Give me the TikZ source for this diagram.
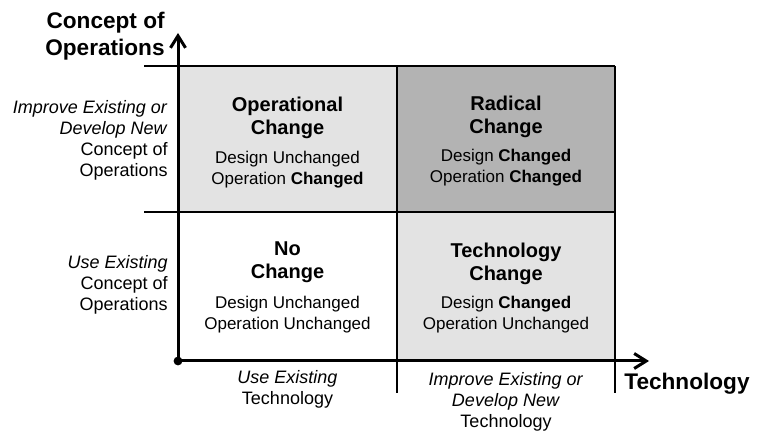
\documentclass[tikz,border=0pt]{standalone}
\usepackage{fontspec}
\setmainfont{Liberation Sans}
\usepackage{tikz}
\usetikzlibrary{arrows.meta}

\begin{document}
\begin{tikzpicture}[x=.5pt,y=-.5pt,
  every node/.style={inner sep=0pt},
  quadtitle/.style={align=center,font=\fontsize{10}{11.5}\selectfont\bfseries},
  quadbody/.style={align=center,font=\fontsize{8.5}{10.5}\selectfont},
  sidetext/.style={align=right,anchor=east,font=\fontsize{9}{10.5}\selectfont},
  bottext/.style={align=center,font=\fontsize{9}{10.5}\selectfont},
  axistext/.style={font=\fontsize{11.3}{13.5}\selectfont\bfseries},
  axisarrow/.style={line width=1.5pt,-{Straight Barb[length=6pt,width=7.5pt]}}]

\useasboundingbox (0,0) rectangle (760,431);

\def\xa{178}; \def\xb{397}; \def\xc{615};
\def\ya{66}; \def\yb{212}; \def\yc{361};
\def\lo{393};

\definecolor{lightq}{RGB}{227,227,227};
\definecolor{darkq}{RGB}{179,179,179};
\fill[lightq] (\xa,\ya) rectangle (\xb,\yb);
\fill[darkq] (\xb,\ya) rectangle (\xc,\yb);
\fill[lightq] (\xb,\yb) rectangle (\xc,\yc);

\draw[line width=1pt] (144,\ya)--(\xc,\ya);
\draw[line width=1pt] (144,\yb)--(\xc,\yb);
\draw[line width=1pt] (\xb,\ya)--(\xb,\lo);
\draw[line width=1pt] (\xc,\ya)--(\xc,\lo);

\coordinate (origin) at (\xa,\yc);
\coordinate (xtip) at (649,\yc);
\coordinate (ytip) at (\xa,33);
\draw[axisarrow] (origin)--(xtip);
\draw[axisarrow] (origin)--(ytip);
\fill (origin) circle[radius=2.2pt];

% quadrants
\node[quadtitle] (optitle) at (287.5,117.5) {Operational\\Change};
\node[quadbody] (opbody) at (287.5,169.5) {Design Unchanged\\Operation \textbf{Changed}};
\node[quadtitle] (radtitle) at (506,117) {Radical\\Change};
\node[quadbody] (radbody) at (506,168) {Design \textbf{Changed}\\Operation \textbf{Changed}};
\node[quadtitle] (notitle) at (287.5,262) {No\\Change};
\node[quadbody] (nobody) at (287.5,315) {Design Unchanged\\Operation Unchanged};
\node[quadtitle] (techtitle) at (506,263.5) {Technology\\Change};
\node[quadbody] (techbody) at (506,315) {Design \textbf{Changed}\\Operation Unchanged};

% axis labels
\node[axistext,align=right,anchor=east] (conopsaxis) at (165,36) {Concept of\\Operations};
\node[axistext,anchor=west] (techaxis) at (624,384) {Technology};

\node[sidetext] (conopsnew) at (168,140) {\textit{Improve Existing or}\\\textit{Develop New}\\Concept of\\Operations};
\node[sidetext] (conopsold) at (168,285) {\textit{Use Existing}\\Concept of\\Operations};
\node[bottext] (techold) at (287.5,389) {\textit{Use Existing}\\Technology};
\node[bottext] (technew) at (506,402) {\textit{Improve Existing or}\\\textit{Develop New}\\Technology};

\end{tikzpicture}
\end{document}
